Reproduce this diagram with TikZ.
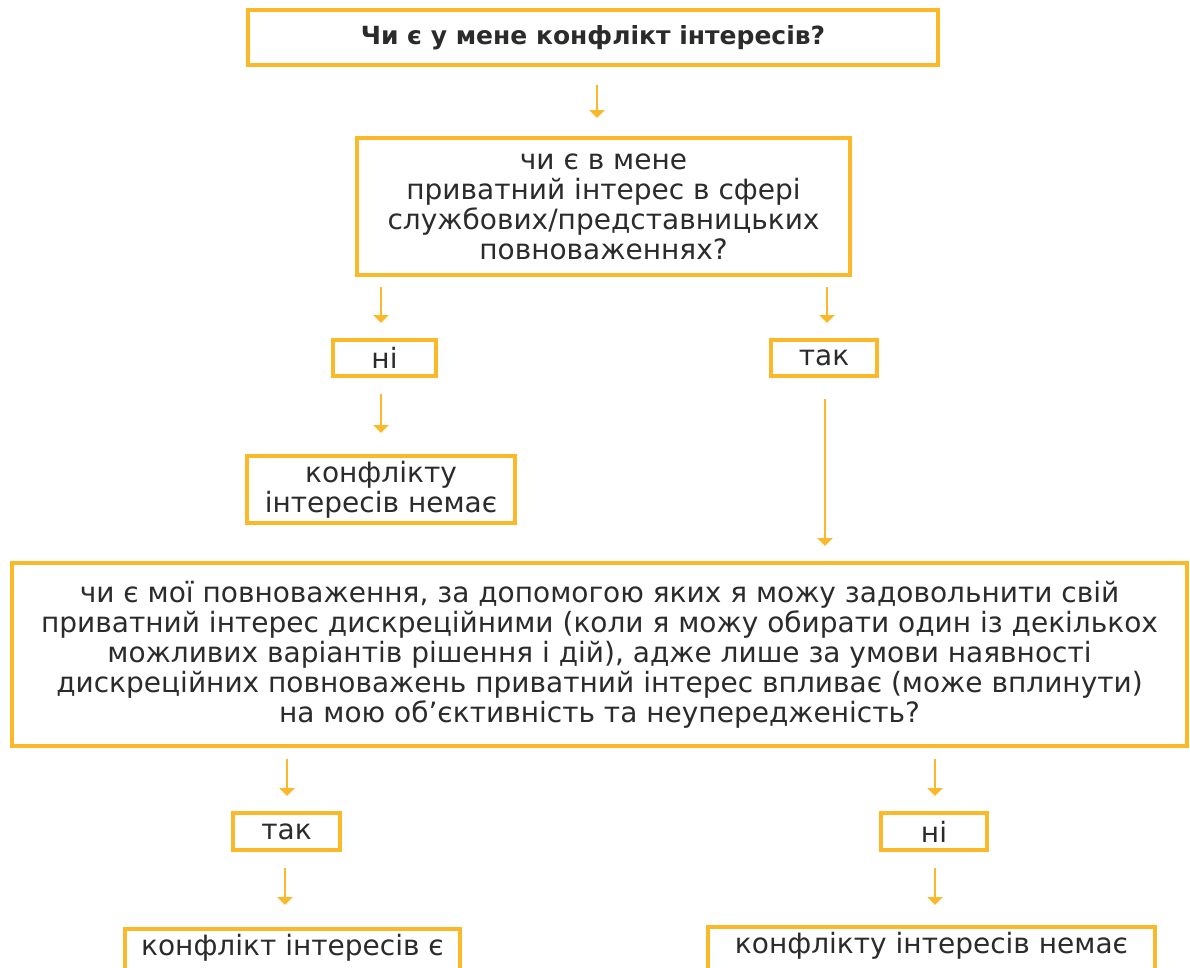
\documentclass[tikz,border=0pt]{standalone}
\usepackage{fontspec}
\setmainfont{DejaVu Sans}
\usetikzlibrary{arrows.meta}
\definecolor{gold}{HTML}{FBB829}
\definecolor{txt}{HTML}{2B2B2B}
\tikzset{
  box/.style={draw=gold, line width=4pt, rectangle, inner sep=0pt, text=txt, align=center,
    font=\fontsize{28}{30}\selectfont},
  arr/.style={draw=gold, line width=2pt, -{Triangle[width=15pt,length=8pt]}},
}
\begin{document}
\begin{tikzpicture}[x=1pt,y=-1pt]
\clip (0,0) rectangle (1190,967);
\fill[white] (0,0) rectangle (1190,967);
\node[box, minimum width=690, minimum height=55, font=\fontsize{25}{28}\selectfont\bfseries] (q1) at (593,37.5) {Чи є у мене конфлікт інтересів?};
\node[box, minimum width=493, minimum height=137] (q2) at (603.5,206.5) {чи є в мене\\приватний інтерес в сфері\\службових/представницьких\\повноваженнях?};
\node[box, minimum width=103, minimum height=36] (no1) at (384.5,358) {ні};
\node[box, minimum width=106, minimum height=36] (yes1) at (824,358) {так};
\node[box, minimum width=268, minimum height=67] (r1) at (381,489.5) {конфлікту\\інтересів немає};
\node[box, minimum width=1175, minimum height=183] (q3) at (599.5,654.5) {чи є мої повноваження, за допомогою яких я можу задовольнити свій\\приватний інтерес дискреційними (коли я можу обирати один із декількох\\можливих варіантів рішення і дій), адже лише за умови наявності\\дискреційних повноважень приватний інтерес впливає (може вплинути)\\на мою об’єктивність та неупередженість?};
\node[box, minimum width=107, minimum height=37] (yes2) at (286.5,831.5) {так};
\node[box, minimum width=106, minimum height=37] (no2) at (934,831.5) {ні};
\node[box, anchor=north, minimum width=335, text height=20pt, text depth=36pt, inner ysep=6pt] (r2) at (292.5,927) {конфлікт інтересів є};
\node[box, anchor=north, minimum width=447, text height=20pt, text depth=36pt, inner ysep=6pt] (r3) at (931.5,925) {конфлікту інтересів немає};
\draw[arr, shorten <=18pt, shorten >=18pt] (q1.south -| 597,0) -- (q2.north -| 597,0);
\draw[arr, shorten <=10pt, shorten >=15pt] (q2.south -| 381,0) -- (no1.north -| 381,0);
\draw[arr, shorten <=10pt, shorten >=15pt] (q2.south -| 827,0) -- (yes1.north -| 827,0);
\draw[arr, shorten <=16pt, shorten >=21pt] (no1.south -| 381,0) -- (r1.north -| 381,0);
\draw[arr, shorten <=21pt, shorten >=15pt] (yes1.south -| 825,0) -- (q3.north -| 825,0);
\draw[arr, shorten <=11pt, shorten >=15pt] (q3.south -| 287,0) -- (yes2.north -| 287,0);
\draw[arr, shorten <=11pt, shorten >=15pt] (q3.south -| 935,0) -- (no2.north -| 935,0);
\draw[arr, shorten <=16pt, shorten >=22pt] (yes2.south -| 285,0) -- (r2.north -| 285,0);
\draw[arr, shorten <=16pt, shorten >=20pt] (no2.south -| 935,0) -- (r3.north -| 935,0);
\end{tikzpicture}
\end{document}
